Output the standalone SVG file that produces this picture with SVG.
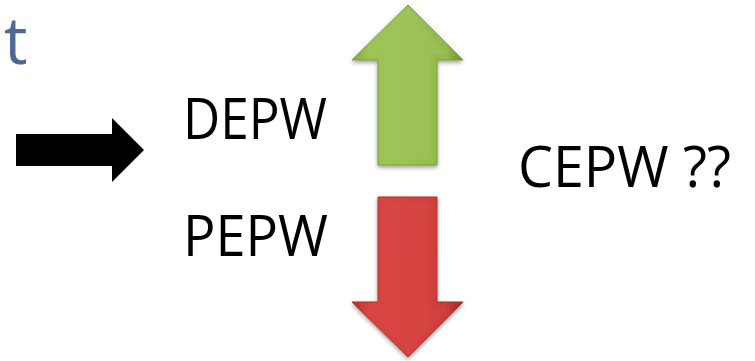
<svg xmlns="http://www.w3.org/2000/svg" width="755" height="361" viewBox="0 0 755 361">
<style>
.lbl{font-family:"Open Sans","Liberation Sans",sans-serif;font-size:57px;fill:#000}
</style>
<defs>
<linearGradient id="gG" x1="0" y1="0" x2="1" y2="0">
<stop offset="0" stop-color="#86ab3c"/><stop offset="0.15" stop-color="#9dc356"/><stop offset="0.5" stop-color="#9bc255"/><stop offset="0.85" stop-color="#93b94c"/><stop offset="1" stop-color="#6f9030"/>
</linearGradient>
<linearGradient id="gR" x1="0" y1="0" x2="1" y2="0">
<stop offset="0" stop-color="#b52f2c"/><stop offset="0.15" stop-color="#d94442"/><stop offset="0.5" stop-color="#d64341"/><stop offset="0.85" stop-color="#cc3c3a"/><stop offset="1" stop-color="#a02826"/>
</linearGradient>
<filter id="sh" x="-20%" y="-20%" width="140%" height="140%">
<feGaussianBlur in="SourceAlpha" stdDeviation="2"/><feOffset dy="2"/><feComponentTransfer><feFuncA type="linear" slope="0.4"/></feComponentTransfer><feMerge><feMergeNode/><feMergeNode in="SourceGraphic"/></feMerge>
</filter>
</defs>
<text x="4" y="64" font-family="Open Sans,Liberation Sans,sans-serif" font-size="66" fill="#4f6796">t</text>
<g id="arrow-right">
<polygon points="16,134 112,134 112,118 144,150 112,182 112,166 16,166" fill="#000"/>
</g>
<g id="arrow-up" filter="url(#sh)">
<polygon points="408,5 463,60 437,60 437,165 378,165 378,60 352,60" fill="url(#gG)" stroke="#7a9b38" stroke-width="1"/>
<polygon points="408,12 448,54 431,54 431,159 384,159 384,54 367,54" fill="#a0c65a" opacity="0.45"/>
</g>
<g id="arrow-down" filter="url(#sh)">
<polygon points="378,197 437,197 437,302 463,302 408,357 352,302 378,302" fill="url(#gR)" stroke="#a8302d" stroke-width="1"/>
<polygon points="384,203 431,203 431,308 448,308 408,350 367,308 384,308" fill="#da4a47" opacity="0.45"/>
</g>
<g id="depw"><text class="lbl" x="183" y="139" textLength="144" lengthAdjust="spacingAndGlyphs">DEPW</text></g>
<g id="pepw"><text class="lbl" x="183" y="256" textLength="145" lengthAdjust="spacingAndGlyphs">PEPW</text></g>
<g id="cepw"><text class="lbl" x="518" y="187" textLength="213" lengthAdjust="spacingAndGlyphs">CEPW ??</text></g>
</svg>
